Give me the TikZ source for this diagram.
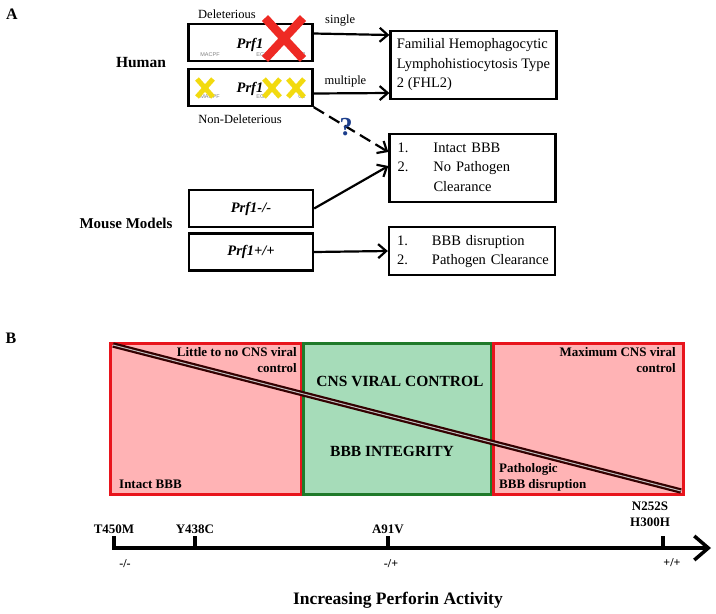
\documentclass[tikz,border=0pt]{standalone}
\usepackage{fontspec}
\setmainfont{Liberation Serif}
\setsansfont{Liberation Sans}
\usetikzlibrary{arrows.meta}
\newcommand{\fsz}[2]{\fontsize{#1}{#2}\selectfont}
\definecolor{boxred}{HTML}{E8141C}
\definecolor{fillred}{HTML}{FFB3B5}
\definecolor{boxgreen}{HTML}{1F7A2A}
\definecolor{fillgreen}{HTML}{A6DCB9}
\definecolor{xred}{HTML}{EE2A24}
\definecolor{xyellow}{HTML}{F2DA0F}
\definecolor{qblue}{HTML}{1C3E8C}

\begin{document}
\begin{tikzpicture}[x=1pt,y=-1pt,
  genebox/.style={draw,line width=2.3pt,minimum width=124pt,minimum height=37pt,inner sep=0pt},
  resbox/.style={draw,line width=2.3pt,text width=150pt,inner xsep=8pt,align=left,font=\fsz{14.5}{19.5}},
  barb/.style={-{Straight Barb[length=8pt,width=14pt,line width=2.2pt]},line width=2.2pt},
  domlab/.style={font=\sffamily\fsz{5.5}{6},text=gray,inner sep=0pt},
  lab/.style={font=\bfseries\fsz{13}{16},inner sep=0pt},
  gname/.style={font=\bfseries\itshape\fsz{14.5}{14.5},inner sep=0pt}]
 \useasboundingbox (0,0) rectangle (716,614);
 % panel A
 \node[font=\bfseries\fsz{16}{16}] (pA) at (12,14) {A};
 \node[font=\bfseries\fsz{15.5}{15.5}] (human) at (141,63) {Human};
 \node[font=\bfseries\fsz{15}{15}] (mouse) at (126,223) {Mouse Models};
 \node[genebox] (del) at (250.5,42.5) {};
 \node[genebox] (nondel) at (250.5,87.5) {};
 \node[genebox,font=\bfseries\itshape\fsz{14.5}{14.5}] (ko) at (251,208.5) {Prf1-/-};
 \node[genebox,font=\bfseries\itshape\fsz{14.5}{14.5}] (wt) at (251,252) {Prf1+/+};
 \foreach \y/\n in {55/a,97/b} {
   \node[domlab] (macpf\n) at (210,\y) {MACPF};
   \node[domlab] (egf\n) at (262,\y) {EGF};
   \node[domlab] (ctwo\n) at (302,\y) {C2};
 }
 \node[gname] (delname) at (250,45) {Prf1};
 \node[gname] (nondelname) at (250,89) {Prf1};
 \draw[xred,line width=8.5pt] (265,18) -- (303,59) (303,18) -- (265,59);
 \foreach \x in {205,272,296}
   \draw[xyellow,line width=5pt] (\x-8,79) -- (\x+8,97) (\x+8,79) -- (\x-8,97);
 \node[font=\fsz{12.5}{12.5}] (deltxt) at (227,14) {Deleterious};
 \node[font=\fsz{12.5}{12.5}] (nondeltxt) at (240,119) {Non-Deleterious};
 \node[draw,line width=2.3pt,minimum width=166pt,minimum height=68pt,align=left,font=\fsz{14.5}{19.5}]
   (fhl) at (473.5,65) {Familial Hemophagocytic\\Lymphohistiocytosis Type\\2 (FHL2)};
 \node[resbox,minimum height=68pt] (intact) at (472.5,168)
   {\begin{tabular}{@{}p{36pt}@{}l@{}}1. & Intact BBB\\ 2. & No Pathogen\\ & Clearance\end{tabular}};
 \node[resbox,minimum height=48pt] (disr) at (472,251)
   {\begin{tabular}{@{}p{35pt}@{}l@{}}1. & BBB disruption\\ 2. & Pathogen Clearance\end{tabular}};
 \draw[barb] ([yshift=9pt]del.east) -- ([yshift=30pt]fhl.west)
   node[pos=0.35,above=3pt,font=\fsz{12.5}{12.5}] (single) {single};
 \draw[barb] ([yshift=-6pt]nondel.east) -- ([yshift=-28pt]fhl.west)
   node[pos=0.42,above=2pt,font=\fsz{12.5}{12.5}] (multiple) {multiple};
 \draw[barb,dash pattern=on 12pt off 6pt] (nondel.south east) -- ([yshift=16pt]intact.west);
 \node[text=qblue,font=\bfseries\fsz{26}{26}] (quest) at (346,127) {?};
 \draw[barb] (ko.east) -- ([yshift=2pt]intact.west);
 \draw[barb] (wt.east) -- (disr.west);
 % panel B
 \node[font=\bfseries\fsz{16}{16}] (pB) at (11,338) {B};
 \draw[boxred,fill=fillred,line width=3pt] (110,343) rectangle (301,494);
 \draw[boxgreen,fill=fillgreen,line width=3pt] (303.5,343) rectangle (491,494);
 \draw[boxred,fill=fillred,line width=3pt] (493.5,343) rectangle (683,494);
 \coordinate (dgA) at (113,345);
 \coordinate (dgB) at (681,491);
 \draw[line width=2.2pt,draw=black!80!red,double=white!75!black,double distance=1pt] (dgA) -- (dgB);
 \node[lab,align=right,anchor=north east] (little) at (297,347.5) {Little to no CNS viral\\control};
 \node[lab,align=right,anchor=north east] (maxim) at (676,347.5) {Maximum CNS viral\\control};
 \node[lab,anchor=west] (intactB) at (119,484) {Intact BBB};
 \node[lab,align=left,anchor=north west] (patho) at (499,463.5) {Pathologic\\BBB disruption};
 \node[font=\bfseries\fsz{15.5}{15.5}] (cns) at (400,381) {CNS VIRAL CONTROL};
 \node[font=\bfseries\fsz{15.5}{15.5}] (integ) at (392,451) {BBB INTEGRITY};
 % activity axis
 \coordinate (axL) at (112.25,548);
 \coordinate (axR) at (711,548);
 \draw[line width=3.5pt,-{Straight Barb[length=14pt,width=24pt,line width=3.5pt]}] (axL) -- (axR);
 \foreach \x in {114,195,388,663}
   \draw[line width=3.5pt] (\x,549.75) -- (\x,536);
 \node[lab] (tfour) at (114,529) {T450M};
 \node[lab] (ythree) at (195,529) {Y438C};
 \node[lab] (aninety) at (388,529) {A91V};
 \node[lab,align=center] (ntwo) at (650,514.5) {N252S\\H300H};
 \node[font=\bfseries\fsz{12}{12}] (mm) at (125,564) {-/-};
 \node[font=\bfseries\fsz{12}{12}] (mp) at (391,564) {-/+};
 \node[font=\bfseries\fsz{12}{12}] (pp) at (672,563) {+/+};
 \node[font=\bfseries\fsz{17.5}{17.5}] (incr) at (398,600) {Increasing Perforin Activity};
\end{tikzpicture}
\end{document}
